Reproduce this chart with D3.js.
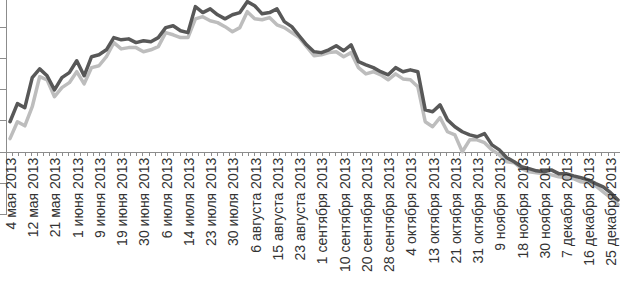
<!DOCTYPE html>
<html>
<head>
<meta charset="utf-8">
<script src="https://cdn.jsdelivr.net/npm/d3@7"></script>
<style>
	body { margin: 0; background: #fff; }
	svg { display: block; }
</style>
</head>
<body>
<div id="chart"></div>
<script>

// date labels, one for every 3rd point
var labels = ["4 мая 2013", "12 мая 2013", "21 мая 2013", "1 июня 2013", "9 июня 2013",
	"19 июня 2013", "30 июня 2013", "6 июля 2013", "14 июля 2013", "23 июля 2013",
	"30 июля 2013", "6 августа 2013", "15 августа 2013", "23 августа 2013", "1 сентября 2013",
	"10 сентября 2013", "20 сентября 2013", "28 сентября 2013", "4 октября 2013", "13 октября 2013",
	"21 октября 2013", "31 октября 2013", "9 ноября 2013", "18 ноября 2013", "30 ноября 2013",
	"7 декабря 2013", "16 декабря 2013", "25 декабря 2013"];

var series1 = [9.6, 15.4, 14.1, 23.7, 26.5, 24.3, 19.8, 23.7, 25.3, 29.1,
	24.3, 30.4, 31.0, 32.6, 36.5, 35.8, 36.1, 34.9, 35.5, 35.2,
	36.5, 39.7, 40.3, 38.7, 38.1, 46.4, 44.5, 45.7, 43.8, 42.5,
	43.8, 44.5, 48.0, 46.7, 44.1, 44.5, 45.7, 41.6, 40.0, 37.1,
	34.2, 32.0, 31.7, 32.6, 33.9, 32.3, 34.2, 28.8, 27.8, 26.9,
	25.6, 24.6, 26.9, 25.6, 26.2, 25.6, 13.4, 12.8, 15.0, 10.2,
	8.0, 6.4, 5.4, 4.8, 5.8, 2.2, 0.6, -1.9, -3.2, -4.8,
	-5.4, -6.1, -6.4, -5.8, -7.0, -7.0, -7.7, -8.3, -9.0, -10.2,
	-11.2, -13.1, -15.4];

var series2 = [4.2, 9.6, 8.3, 14.4, 24.0, 23.0, 17.6, 20.5, 22.1, 25.6,
	21.7, 26.9, 27.5, 30.4, 34.9, 32.9, 33.3, 33.3, 32.0, 32.6,
	33.6, 38.1, 37.4, 36.5, 36.5, 42.5, 43.2, 41.9, 41.3, 40.0,
	38.4, 39.7, 44.8, 42.5, 42.2, 42.9, 40.6, 39.7, 38.1, 36.5,
	33.6, 30.7, 31.0, 31.7, 32.0, 30.4, 31.7, 26.9, 24.9, 25.6,
	24.6, 23.0, 24.9, 23.3, 23.0, 20.8, 9.6, 8.0, 10.9, 6.4,
	5.4, 0.0, 3.8, 3.8, 2.9, 0.6, -1.0, -3.2, -3.5, -5.4,
	-6.4, -6.7, -7.0, -7.4, -8.0, -8.3, -8.6, -9.6, -9.9, -10.9,
	-12.8, -14.7, -16.9];

var yTicks = [-20, -10, 0, 10, 20, 30, 40];

var width = 620,
	height = 285;

var svg = d3.select("#chart").append("svg")
	.attr("width", width)
	.attr("height", height);

var x = d3.scaleLinear()
	.domain([0, series1.length - 1])
	.range([10, 618]);

var y = d3.scaleLinear()
	.domain([-20, 50])
	.range([214.3, -4.6]);

// small ticks along the zero line
var tickScale = d3.scaleLinear()
	.domain([0, 99])
	.range([6, 620]);

var axisColor = "#8c8c8c";

var xAxis = svg.append("g")
	.attr("transform", "translate(0," + y(0) + ")")
	.call(d3.axisBottom(tickScale)
		.tickValues(d3.range(0, 100))
		.tickSize(4)
		.tickSizeOuter(0)
		.tickFormat(""));

var yAxis = svg.append("g")
	.attr("transform", "translate(6,0)")
	.call(d3.axisLeft(y)
		.tickValues(yTicks)
		.tickSize(6)
		.tickSizeOuter(0)
		.tickFormat(""));

svg.selectAll(".domain, .tick line")
	.attr("stroke", axisColor)
	.attr("stroke-width", 1)
	.attr("shape-rendering", "crispEdges");

var line = d3.line()
	.x(function(d, i) { return x(i); })
	.y(function(d) { return y(d); });

svg.append("path")
	.datum(series2)
	.attr("d", line)
	.attr("fill", "none")
	.attr("stroke", "#bdbdbd")
	.attr("stroke-width", 3.5)
	.attr("stroke-linejoin", "round")
	.attr("stroke-linecap", "round");

svg.append("path")
	.datum(series1)
	.attr("d", line)
	.attr("fill", "none")
	.attr("stroke", "#585858")
	.attr("stroke-width", 3.5)
	.attr("stroke-linejoin", "round")
	.attr("stroke-linecap", "round");

svg.append("g").selectAll("text")
	.data(labels)
	.enter()
	.append("text")
	.attr("transform", function(d, i) { return "translate(" + (x(i * 3) + 1) + "," + (y(0) + 6) + ") rotate(-90)"; })
	.attr("text-anchor", "end")
	.attr("dy", "0.35em")
	.style("font-family", "'Liberation Sans', Arial, sans-serif")
	.style("font-size", "14px")
	.style("fill", "#333")
	.text(function(d) { return d; });

</script>
</body>
</html>
